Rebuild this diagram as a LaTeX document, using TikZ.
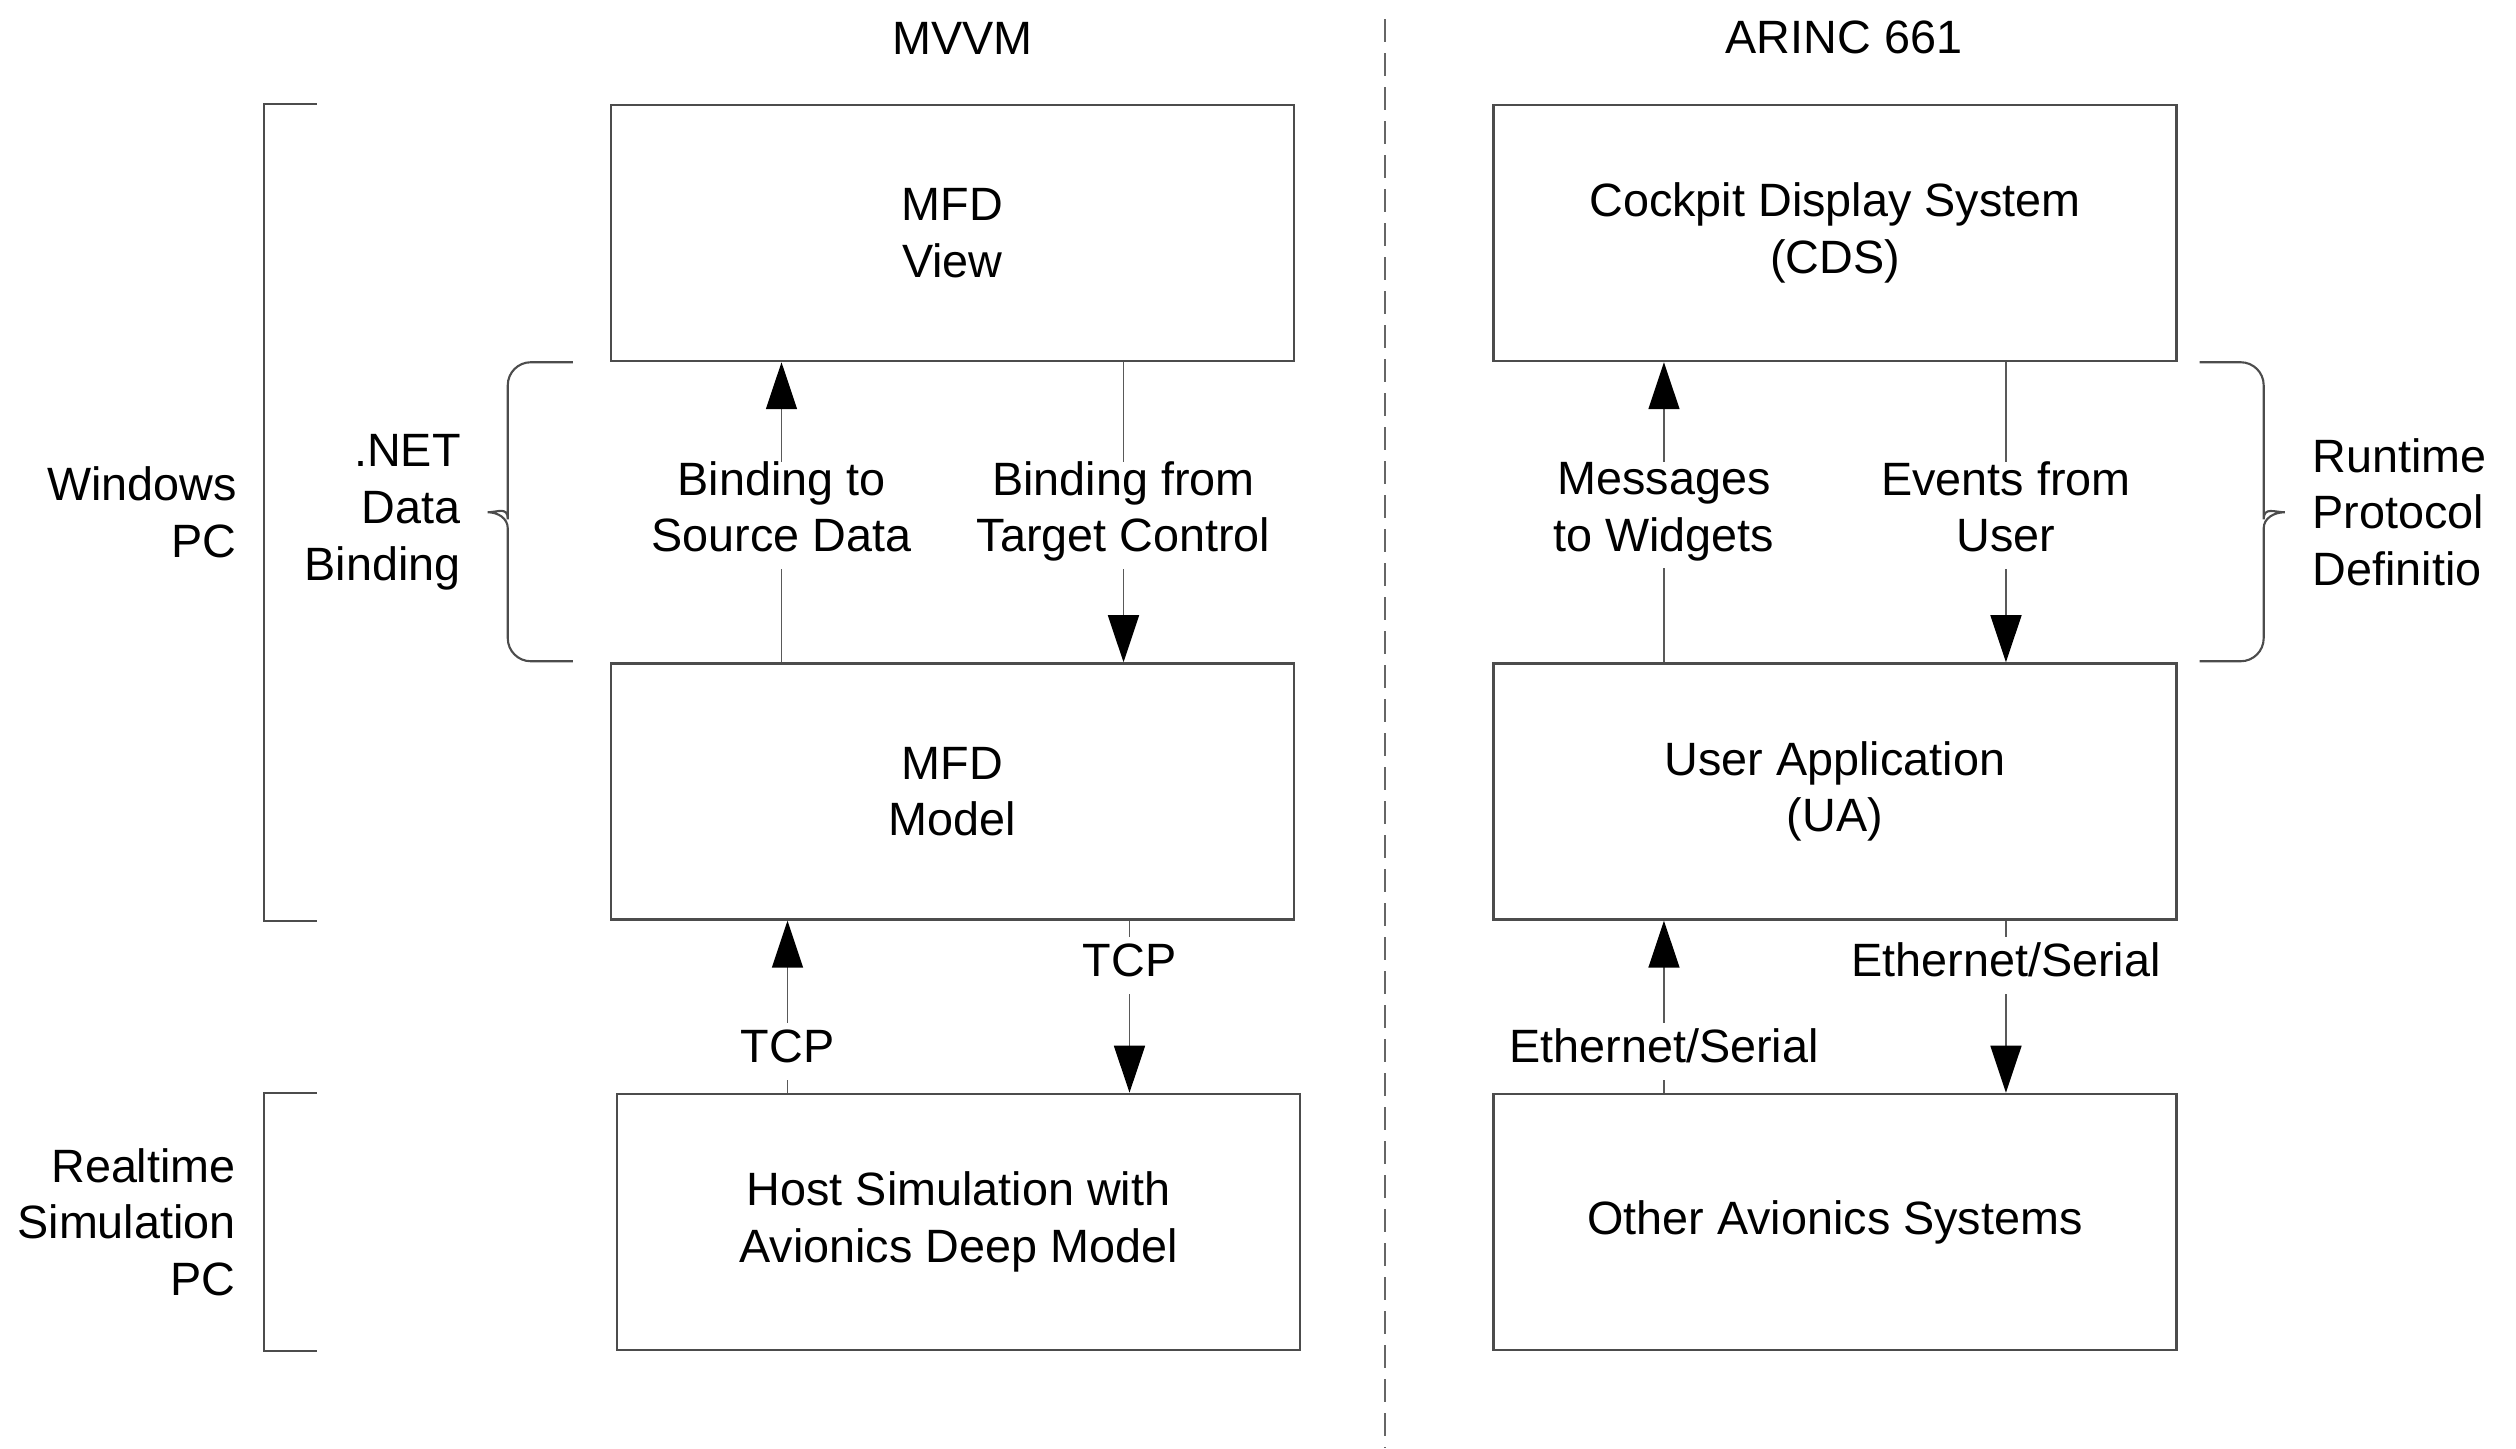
\documentclass[tikz,border=0pt]{standalone}
\usepackage{fontspec}
\setmainfont{Liberation Sans}
\usetikzlibrary{arrows.meta,positioning}

\begin{document}
\begin{tikzpicture}
      [>={Triangle[length=4.7mm,width=3.1mm,color=black]},
      font=\fontsize{13.3}{16.1}\selectfont,
      every node/.style={inner sep=0pt},
      block/.style={rectangle, draw=black!70, line width=0.7pt,
        minimum width=6.83cm, minimum height=2.56cm, align=center},
      link/.style={draw=black!65, line width=0.45pt},
      onlink/.style={fill=white, align=center, inner xsep=0.05cm, inner ysep=0pt,
        execute at begin node=\strut, execute at end node=\strut},
      group/.style={draw=black!70, line width=0.6pt},
      divider/.style={draw=black!60, line width=0.6pt, dash pattern=on 0.23cm off 0.11cm}]

      \useasboundingbox (0,0) rectangle (25.16,-14.48);
      \clip (0,0) rectangle (24.83,-14.48);

      % MVVM side
      \node [block] (V) at (9.525,-2.33) {MFD\\View};
      \node [block, below=3cm of V] (M) {MFD\\Model};
      \node [block, below=1.72cm of M, xshift=0.06cm] (H) {Host Simulation with\\Avionics Deep Model};
      \node [above=0.49cm of V, xshift=0.1cm] (T) {MVVM};

      % ARINC 661 side
      \node [block, right=1.97cm of V] (C) {Cockpit Display System\\(CDS)};
      \node [block, below=3cm of C] (U) {User Application\\(UA)};
      \node [block, below=1.72cm of U] (O) {Other Avionics Systems};
      \node [above=0.49cm of C, xshift=0.09cm] (A) {ARINC 661};

      \coordinate (D1) at (13.85,-0.19);
      \coordinate (D2) at (13.85,-14.48);
      \draw [divider] (D1) -- (D2);

      \path
      ([xshift=-1.71cm]M.north) edge [link, ->] node [onlink, midway, yshift=-0.03cm] (B1) {Binding to\\Source Data} ([xshift=-1.71cm]V.south)
      ([xshift=1.71cm]V.south) edge [link, ->] node [onlink, midway, yshift=-0.03cm] (B2) {Binding from\\Target Control} ([xshift=1.71cm]M.north)
      ([xshift=-1.71cm]H.north) edge [link, ->] node [onlink, pos=0.24] (P1) {TCP} ([xshift=-1.71cm]H.north |- M.south)
      ([xshift=1.71cm]H.north |- M.south) edge [link, ->] node [onlink, pos=0.26] (P2) {TCP} ([xshift=1.71cm]H.north)
      ([xshift=-1.71cm]U.north) edge [link, ->] node [onlink, midway, yshift=-0.03cm] (W1) {Messages\\to Widgets} ([xshift=-1.71cm]C.south)
      ([xshift=1.71cm]C.south) edge [link, ->] node [onlink, midway, yshift=-0.03cm] (W2) {Events from\\User} ([xshift=1.71cm]U.north)
      ([xshift=-1.71cm]O.north) edge [link, ->] node [onlink, pos=0.24] (E1) {Ethernet/Serial} ([xshift=-1.71cm]U.south)
      ([xshift=1.71cm]U.south) edge [link, ->] node [onlink, pos=0.26] (E2) {Ethernet/Serial} ([xshift=1.71cm]O.north);

      % brackets and braces
      \draw [group] ([xshift=-2.93cm]V.north west) -- ++(-0.53,0)
        |- node [pos=0.25, left=0.26cm, align=right] (WP) {Windows\\PC} ([xshift=-2.93cm]M.south west);
      \draw [group] ([xshift=-2.99cm]H.north west) -- ++(-0.53,0)
        |- node [pos=0.25, left=0.27cm, align=right] (RS) {Realtime\\Simulation\\PC} ([xshift=-2.99cm]H.south west);
      \draw [group] ([xshift=-0.37cm]V.south west)
        [rounded corners=0.23cm] -- ++(-0.65,0) -- ++(0,-1.34)
        [sharp corners] to [out=-90, in=0] ++(-0.2,-0.16)
        node [left=0.26cm, align=right] (NB) {.NET\\Data\\Binding}
        to [out=0, in=90] ++(0.2,-0.16)
        [rounded corners=0.23cm] -- ++(0,-1.33) -- ++(0.65,0);
      \draw [group] ([xshift=0.22cm]C.south east)
        [rounded corners=0.23cm] -- ++(0.64,0) -- ++(0,-1.34)
        [sharp corners] to [out=-90, in=180] ++(0.21,-0.16)
        node [right=0.27cm, align=left] (RP) {Runtime\\Protocol\\Definition}
        to [out=180, in=90] ++(-0.21,-0.16)
        [rounded corners=0.23cm] -- ++(0,-1.33) -- ++(-0.64,0);
    \end{tikzpicture}
\end{document}
